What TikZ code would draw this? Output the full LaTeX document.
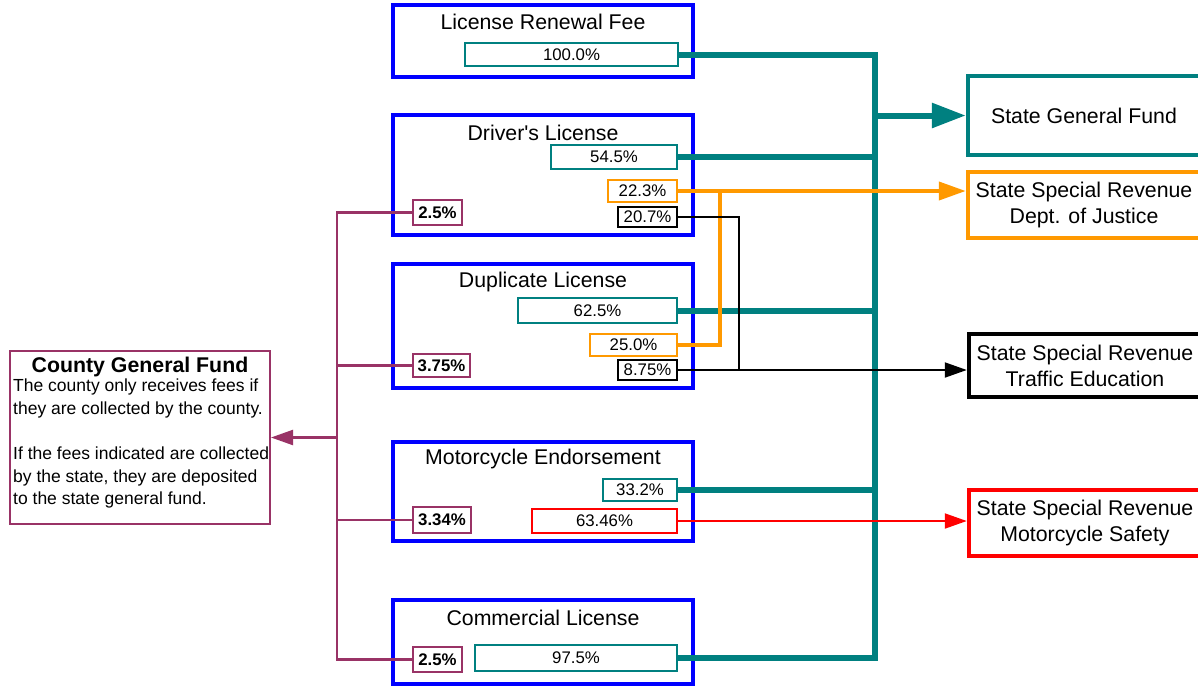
\documentclass[tikz,border=0pt]{standalone}
\usepackage{fontspec}
\setmainfont{Liberation Sans}
\usetikzlibrary{arrows.meta}
\definecolor{cteal}{RGB}{0,128,128}
\definecolor{corange}{RGB}{255,153,0}
\definecolor{cpurple}{RGB}{153,51,102}
\definecolor{cblue}{RGB}{0,0,255}
\definecolor{cred}{RGB}{255,0,0}
\tikzset{
  srcbox/.style={draw=cblue, line width=4pt, minimum width=300pt, fill=white},
  ttl/.style={font=\fontsize{21.3}{24}\selectfont, inner sep=0pt},
  pct/.style={draw=#1, line width=1.8pt, inner sep=0pt, fill=white, font=\fontsize{16.8}{20}\selectfont},
  bpct/.style={pct=#1, font=\fontsize{16.8}{20}\selectfont\bfseries},
  dest/.style={draw=#1, line width=4.5pt, minimum width=232pt, align=center, font=\fontsize{21.3}{26}\selectfont, fill=white},
  tealw/.style={draw=cteal, line width=6pt, line join=miter},
}
\begin{document}
\begin{tikzpicture}[x=1pt,y=-1pt]
\useasboundingbox (0,0) rectangle (1198,686);
\fill[white] (0,0) rectangle (1198,686);
\coordinate (bus) at (875,0);
\coordinate (ov) at (720,0);
\coordinate (bv) at (739,0);
\coordinate (pv) at (337,0);

% source boxes
\node[srcbox, minimum height=72pt] (lrf) at (543,41) {};
\node[srcbox, minimum height=120pt] (dl) at (543,175) {};
\node[srcbox, minimum height=124pt] (dup) at (543,326) {};
\node[srcbox, minimum height=99pt] (me) at (543,491.5) {};
\node[srcbox, minimum height=84pt] (cl) at (543,642) {};
\node[ttl] (tlrf) at (543,22) {License Renewal Fee};
\node[ttl] (tdl) at (543,133) {Driver\textquotesingle s License};
\node[ttl] (tdup) at (543,282) {Duplicate License};
\node[ttl] (tme) at (543,459) {Motorcycle Endorsement};
\node[ttl] (tcl) at (543,618) {Commercial License};

% percentage boxes
\node[pct=cteal, minimum width=213pt, minimum height=23pt] (p1) at (571.5,54.5) {100.0\%};
\node[pct=cteal, minimum width=126pt, minimum height=24pt] (p2) at (614,157) {54.5\%};
\node[pct=corange, minimum width=69pt, minimum height=22pt] (p3) at (642.5,191) {22.3\%};
\node[pct=black, minimum width=59pt, minimum height=20pt] (p4) at (647.5,217) {20.7\%};
\node[bpct=cpurple, minimum width=49pt, minimum height=25pt] (p5) at (437.5,212.5) {2.5\%};
\node[pct=cteal, minimum width=159pt, minimum height=25pt] (p6) at (597.5,310.5) {62.5\%};
\node[pct=corange, minimum width=87pt, minimum height=22pt] (p7) at (633.5,345) {25.0\%};
\node[pct=black, minimum width=59pt, minimum height=20pt] (p8) at (647.5,370) {8.75\%};
\node[bpct=cpurple, minimum width=57pt, minimum height=23pt] (p9) at (441.5,365.5) {3.75\%};
\node[pct=cteal, minimum width=74pt, minimum height=22pt] (p10) at (640,490) {33.2\%};
\node[pct=cred, minimum width=145pt, minimum height=24pt] (p11) at (604.5,521) {63.46\%};
\node[bpct=cpurple, minimum width=58pt, minimum height=26pt] (p12) at (442,520) {3.34\%};
\node[pct=cteal, minimum width=202pt, minimum height=26pt] (p13) at (576,658) {97.5\%};
\node[bpct=cpurple, minimum width=49pt, minimum height=25pt] (p14) at (437.5,659.5) {2.5\%};

% destination boxes
\node[dest=cteal, minimum height=79pt] (sgf) at (1084,115.5) {State General Fund};
\node[dest=corange, minimum height=66pt] (doj) at (1084,205) {State Special Revenue\\Dept. of Justice};
\node[dest=black, minimum height=63pt] (te) at (1085,365.5) {State Special Revenue\\Traffic Education};
\node[dest=cred, minimum height=66pt] (ms) at (1085,523) {State Special Revenue\\Motorcycle Safety};

% county box
\node[draw=cpurple, line width=2pt, minimum width=260pt, minimum height=173pt, fill=white] (cgf) at (140,437.5) {};
\node[inner sep=0pt, font=\fontsize{21.3}{24}\selectfont\bfseries] (cgft) at (140,366.5) {County General Fund};
\node[inner sep=0pt, anchor=north west, align=left, font=\fontsize{17.5}{22.6}\selectfont] (cgfb) at (13,379) {The county only receives fees if\\they are collected by the county.\\[22.6pt]If the fees indicated are collected\\by the state, they are deposited\\to the state general fund.};

% teal connectors
\draw[tealw] (p1.east) -- (p1.east -| bus) |- (p13.east);
\draw[tealw] (p2.east) -- (p2.east -| bus);
\draw[tealw] (p6.east) -- (p6.east -| bus);
\draw[tealw] (p10.east) -- (p10.east -| bus);
\draw[tealw, -{Triangle[length=34pt,width=24pt]}] (bus |- sgf.west) -- (sgf.west);

% orange
\draw[draw=corange, line width=4pt, -{Triangle[length=27pt,width=18pt]}] (p3.east) -- (p3.east -| doj.west);
\draw[draw=corange, line width=4pt] (p7.east) -| (ov |- p3.east);

% black
\draw[line width=2pt] (p4.east) -| (bv |- p8.east);
\draw[line width=2pt, -{Triangle[length=22pt,width=15pt]}] (p8.east) -- (p8.east -| te.west);

% red
\draw[draw=cred, line width=2pt, -{Triangle[length=22pt,width=15pt]}] (p11.east) -- (p11.east -| ms.west);

% purple
\draw[draw=cpurple, line width=2.2pt] (p5.west) -| (pv |- p14.west) -- (p14.west);
\draw[draw=cpurple, line width=2.2pt] (p9.west) -- (p9.west -| pv);
\draw[draw=cpurple, line width=2.2pt] (p12.west) -- (p12.west -| pv);
\draw[draw=cpurple, line width=2.2pt, -{Triangle[length=22pt,width=15pt]}] (pv |- cgf.east) -- (cgf.east);
\end{tikzpicture}
\end{document}
